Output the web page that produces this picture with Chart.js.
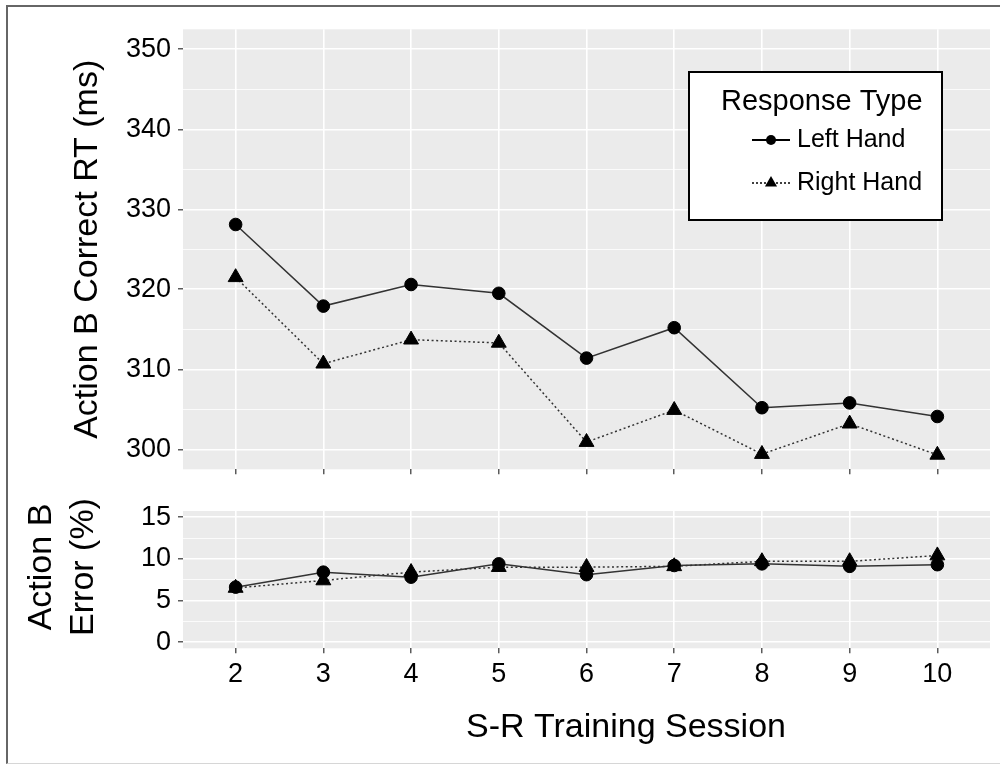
<!DOCTYPE html>
<html><head><meta charset="utf-8">
<script src="https://cdn.jsdelivr.net/npm/chart.js@4.4.0/dist/chart.umd.min.js"></script>
<style>
html,body{margin:0;padding:0;background:#fff;}
#wrap{position:relative;width:1000px;height:765px;overflow:hidden;background:#fff;}
#frame{position:absolute;left:6px;top:5px;width:1000px;height:759px;border-left:2px solid #666;border-top:2px solid #666;border-bottom:1px solid #d6d6d6;box-sizing:border-box;}
canvas{position:absolute;left:0;top:0;}
</style></head>
<body><div id="wrap"><div id="frame"></div>
<canvas id="c1" width="1000" height="765"></canvas>
<canvas id="c2" width="1000" height="765"></canvas>
</div>
<script>
// ---- data ----
const sessions = [2, 3, 4, 5, 6, 7, 8, 9, 10];
const rtLeft   = [328.1, 317.9, 320.6, 319.5, 311.4, 315.2, 305.2, 305.8, 304.1];
const rtRight  = [321.5, 310.7, 313.7, 313.3, 300.9, 304.9, 299.4, 303.2, 299.3];
const errLeft  = [6.6, 8.4, 7.8, 9.4, 8.1, 9.2, 9.4, 9.1, 9.3];
const errRight = [6.5, 7.4, 8.4, 9.0, 9.0, 9.1, 9.7, 9.7, 10.4];
const rtTicks  = [300, 310, 320, 330, 340, 350];
const errTicks = [0, 5, 10, 15];
const seriesNames = ['Left Hand', 'Right Hand'];
const legendTitle = 'Response Type';
const yTitleTop = 'Action B Correct RT (ms)';
const yTitleBottom = ['Action B', 'Error (%)'];
const xTitle = 'S-R Training Session';

// ---- style ----
const FONT = '"Liberation Sans", Arial, Helvetica, sans-serif';
const LINE = '#333333';

function pts(ys){ return sessions.map((x, i) => ({x: x, y: ys[i]})); }
function withMinor(t){ const o=[]; for(let i=0;i<t.length;i++){ o.push(t[i]); if(i<t.length-1) o.push((t[i]+t[i+1])/2); } return o; }

const panelBg = { id:'panelBg', beforeDraw(chart){ const {ctx, chartArea:a} = chart; ctx.save(); ctx.fillStyle='#EBEBEB'; ctx.fillRect(a.left, a.top, a.right-a.left, a.bottom-a.top); ctx.restore(); } };

function dsets(l, r){
  return [
    {label: seriesNames[0], data: pts(l), borderColor: LINE, borderWidth: 1.5, tension: 0, fill: false,
     pointStyle: 'circle', pointRadius: 6.3, pointBackgroundColor: '#000', pointBorderColor: '#000', pointBorderWidth: 1, pointHoverRadius: 6.3},
    {label: seriesNames[1], data: pts(r), borderColor: LINE, borderWidth: 1.5, borderDash: [2, 2.6], tension: 0, fill: false,
     pointStyle: 'triangle', pointRadius: 8.6, pointBackgroundColor: '#000', pointBorderColor: '#000', pointBorderWidth: 1, pointHoverRadius: 8.6}
  ];
}

function xScale(showLabels, h){
  return {
    type: 'linear', min: 1.4, max: 10.6,
    afterBuildTicks: s => { s.ticks = sessions.map(v => ({value: v})); },
    afterFit: s => { s.height = h; s.paddingLeft = 0; s.paddingRight = 0; },
    grid: {color: '#ffffff', lineWidth: 1.6, drawTicks: true, tickLength: 5, tickColor: '#333', tickWidth: 1.2},
    border: {display: false},
    ticks: {display: showLabels, autoSkip: false, maxRotation: 0, color: '#000', padding: 5, font: {family: FONT, size: 27}}
  };
}

function yScale(min, max, major, title){
  const isMajor = c => c && c.tick && major.includes(c.tick.value);
  const sc = {
    type: 'linear', min: min, max: max,
    afterBuildTicks: s => { s.ticks = withMinor(major).map(v => ({value: v})); },
    afterFit: s => { s.width = 183; s.paddingTop = 0; s.paddingBottom = 0; },
    grid: {color: '#ffffff', lineWidth: c => isMajor(c) ? 1.6 : 0.8, drawTicks: true, tickLength: 5,
           tickColor: c => isMajor(c) ? '#333' : 'rgba(0,0,0,0)', tickWidth: 1.2},
    border: {display: false},
    ticks: {autoSkip: false, color: '#000', padding: 7, font: {family: FONT, size: 27},
            callback: v => major.includes(v) ? String(v) : ''}
  };
  if (title) sc.title = {display: true, text: title, color: '#000', font: {family: FONT, size: 34}, padding: {top: 67.6, bottom: 0}};
  return sc;
}

const legendPlugin = { id: 'legendBox', afterDraw(chart){
  const ctx = chart.ctx; ctx.save();
  ctx.fillStyle = '#fff'; ctx.fillRect(689, 72, 253, 148);
  ctx.strokeStyle = '#000'; ctx.lineWidth = 2; ctx.strokeRect(689, 72, 253, 148);
  ctx.fillStyle = '#000'; ctx.textBaseline = 'middle'; ctx.textAlign = 'left';
  ctx.font = '29px ' + FONT; ctx.fillText(legendTitle, 721, 102);
  ctx.font = '25px ' + FONT;
  // row 1
  ctx.strokeStyle = '#000'; ctx.lineWidth = 2; ctx.setLineDash([]);
  ctx.beginPath(); ctx.moveTo(752, 140); ctx.lineTo(790, 140); ctx.stroke();
  ctx.beginPath(); ctx.arc(771, 140, 5, 0, Math.PI*2); ctx.fill();
  ctx.fillText(seriesNames[0], 797, 140);
  // row 2
  ctx.lineWidth = 1.5; ctx.setLineDash([2, 2]);
  ctx.beginPath(); ctx.moveTo(752, 183); ctx.lineTo(790, 183); ctx.stroke();
  ctx.setLineDash([]);
  const r = 7, cx = 771, cy = 183;
  ctx.beginPath(); ctx.moveTo(cx, cy - r); ctx.lineTo(cx + r*0.866, cy + r*0.5); ctx.lineTo(cx - r*0.866, cy + r*0.5); ctx.closePath(); ctx.fill();
  ctx.fillText(seriesNames[1], 797, 183);
  ctx.restore();
}};

const titlesPlugin = { id: 'extraTitles', afterDraw(chart){
  const ctx = chart.ctx; ctx.save();
  ctx.fillStyle = '#000'; ctx.font = '34px ' + FONT; ctx.textAlign = 'center'; ctx.textBaseline = 'middle';
  ctx.fillText(xTitle, 626, 728);
  ctx.translate(0, 567); ctx.rotate(-Math.PI/2);
  ctx.fillText(yTitleBottom[0], 0, 42);
  ctx.fillText(yTitleBottom[1], 0, 83.5);
  ctx.restore();
}};

const common = {responsive: false, animation: false, events: [],
  plugins: {legend: {display: false}, tooltip: {enabled: false}}};

new Chart(document.getElementById('c1'), {
  type: 'line',
  data: {datasets: dsets(rtLeft, rtRight)},
  options: Object.assign({}, common, {
    layout: {padding: {left: 0, top: 29.3, right: 10, bottom: 765 - 469.3 - 5}},
    scales: {x: xScale(false, 5), y: yScale(297.5, 352.5, rtTicks, yTitleTop)}
  }),
  plugins: [panelBg, legendPlugin]
});

new Chart(document.getElementById('c2'), {
  type: 'line',
  data: {datasets: dsets(errLeft, errRight)},
  options: Object.assign({}, common, {
    layout: {padding: {left: 0, top: 511, right: 10, bottom: 765 - 648.3 - 50}},
    scales: {x: xScale(true, 50), y: yScale(-0.75, 15.75, errTicks, null)}
  }),
  plugins: [panelBg, titlesPlugin]
});
</script>
</body></html>
